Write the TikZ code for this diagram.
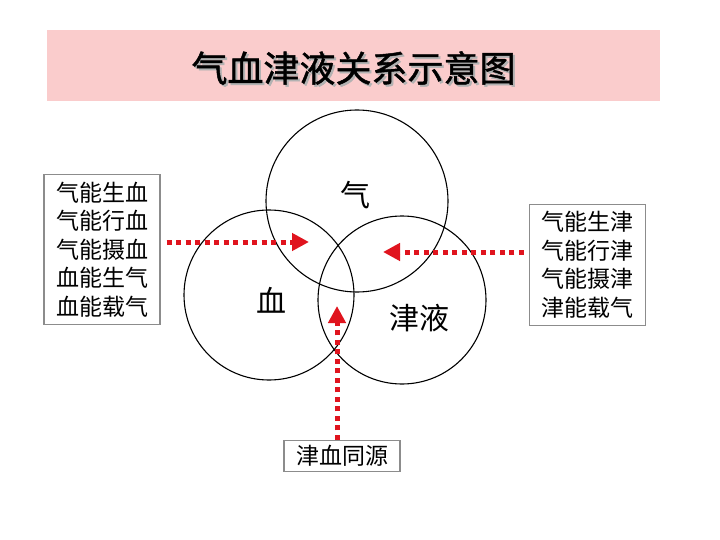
\documentclass[tikz,border=0pt]{standalone}
\usepackage{fontspec}
\newfontfamily\cjk{Noto Sans CJK SC}
\newfontfamily\cjktitle[FakeBold=1.3]{Noto Sans CJK SC}
\usetikzlibrary{arrows.meta, calc}
\definecolor{titlepink}{RGB}{250,204,204}
\definecolor{flowred}{RGB}{224,20,30}
\definecolor{boxgray}{RGB}{140,140,140}

\begin{document}
\begin{tikzpicture}[x=1pt, y=-1pt,
    textbox/.style={draw=boxgray, line width=1.2pt, align=left, inner xsep=12pt, inner ysep=7pt,
        font=\cjk\fontsize{23}{28.5}\selectfont},
    ringlabel/.style={font=\cjk\fontsize{30}{30}\selectfont},
    flow/.style={flowred, line width=5pt, dash pattern=on 5pt off 4.5pt,
        -{Triangle[length=17pt, width=17pt]}}]
        \useasboundingbox[fill=white] (0, 0) rectangle (720, 540);

        % title
        \fill[titlepink] (47, 30) rectangle (660, 101);
        \node[font=\cjktitle\fontsize{36}{36}\selectfont, text=gray!60] (titleshadow) at (355.5, 70) {气血津液关系示意图};
        \node[font=\cjktitle\fontsize{36}{36}\selectfont] (title) at (353.5, 68) {气血津液关系示意图};

        \coordinate (Q) at (357, 201);
        \coordinate (X) at (269, 295);
        \coordinate (J) at (402, 300);
        \draw[black, line width=1.1pt] (Q) circle (91pt);
        \draw[black, line width=1.1pt] (X) circle (85pt);
        \draw[black, line width=1.1pt] (J) circle (84pt);

        \node[ringlabel] (qi) at (355, 195) {气};
        \node[ringlabel] (xue) at (271, 300) {血};
        \node[ringlabel] (jinye) at (419, 318) {津液};

        \node[textbox] (leftbox) at (102, 249.5) {气能生血\\气能行血\\气能摄血\\血能生气\\血能载气};
        \node[textbox] (rightbox) at (587.5, 265) {气能生津\\气能行津\\气能摄津\\津能载气};
        \node[textbox, inner ysep=5pt] (bottombox) at (342, 456) {津血同源};

        \coordinate (lefttip) at (309, 242);
        \coordinate (righttip) at (383, 252);
        \coordinate (bottomtip) at (337, 306);
        \draw[flow] ($(leftbox.east)+(6, -7.5)$) -- (lefttip);
        \draw[flow] ($(rightbox.west)+(-5, -13)$) -- (righttip);
        \draw[flow] (bottombox.north -| bottomtip) -- (bottomtip);
    \end{tikzpicture}
\end{document}
